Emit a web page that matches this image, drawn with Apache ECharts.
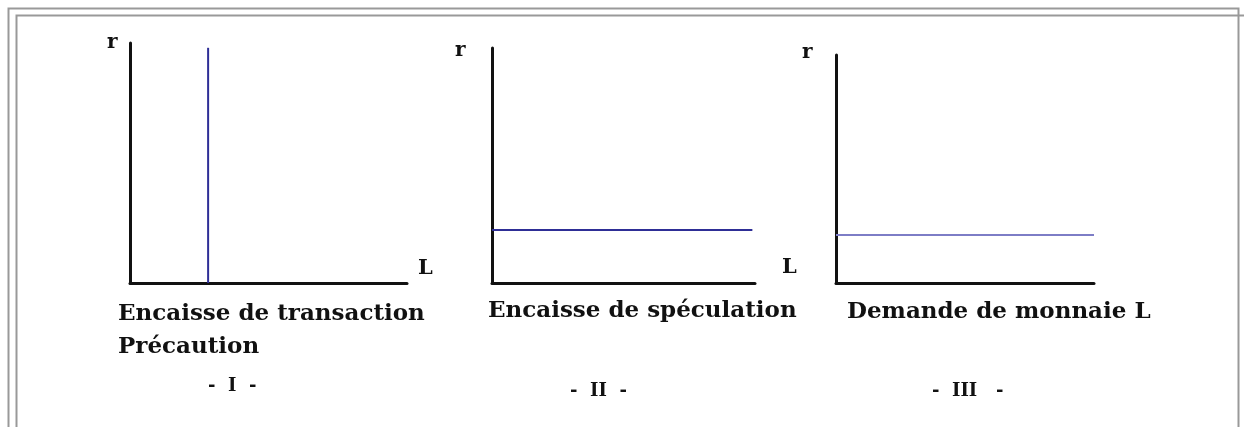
<!DOCTYPE html>
<html>
<head>
<meta charset="utf-8">
<script src="https://cdn.jsdelivr.net/npm/echarts@6/dist/echarts.min.js"></script>
<style>
  html, body { margin: 0; padding: 0; background: #fff; }
  #chart { width: 1244px; height: 427px; }
</style>
</head>
<body>
<div id="chart"></div>
<script>
// three little panels: r (interest rate) against L (money demand)
const panelCaptions = [
  'Encaisse de transaction\nPrécaution',
  'Encaisse de spéculation',
  'Demande de monnaie L'
]
const panelNumbers = ['-  I  -', '-  II  -', '-  III   -']
const yAxisName = 'r'
const xAxisName = 'L'

// curve points, in axis units (0..10 on both axes)
const transactionCurve = [[2.82, 0], [2.82, 9.8]]
const speculationCurve = [[0, 2.26], [9.9, 2.26]]
const demandCurve = [[0, 2.1], [10, 2.1]]

const curveColors = ['#2e2e96', '#2e2e96', '#7d7dc6']

const grids = [
  { left: 130, top: 43, width: 277, height: 240 },
  { left: 492, top: 48, width: 263, height: 235 },
  { left: 836, top: 55, width: 258, height: 228 }
]

const chart = echarts.init(document.getElementById('chart'))

const axisLine = { show: true, onZero: false, lineStyle: { color: '#111', width: 3 } }

const txt = (left, top, text, size, extra) => ({
  type: 'text', left: left, top: top,
  style: Object.assign({
    text: text, fontFamily: 'DejaVu Serif', fontWeight: 'bold',
    fontSize: size, fill: '#111'
  }, extra || {})
})

const option = {
  animation: false,
  backgroundColor: '#fff',
  grid: grids,
  xAxis: grids.map((g, i) => ({
    type: 'value', gridIndex: i, min: 0, max: 10,
    axisLine: axisLine, axisTick: { show: false },
    axisLabel: { show: false }, splitLine: { show: false }
  })),
  yAxis: grids.map((g, i) => ({
    type: 'value', gridIndex: i, min: 0, max: 10,
    axisLine: axisLine, axisTick: { show: false },
    axisLabel: { show: false }, splitLine: { show: false }
  })),
  series: [transactionCurve, speculationCurve, demandCurve].map((d, i) => ({
    type: 'line',
    xAxisIndex: i,
    yAxisIndex: i,
    data: d,
    symbol: 'none',
    lineStyle: { color: curveColors[i], width: 2 }
  })),
  graphic: [
    // double frame round the figure
    { type: 'polyline', shape: { points: [[8.5, 427], [8.5, 8.5], [1238.5, 8.5], [1238.5, 427]] },
      style: { stroke: '#999', lineWidth: 2, fill: null } },
    { type: 'polyline', shape: { points: [[16.5, 427], [16.5, 15.5], [1244, 15.5]] },
      style: { stroke: '#999', lineWidth: 2, fill: null } },
    // axis names
    txt(107, 33, yAxisName, 20),
    txt(418, 258, xAxisName, 21),
    txt(455, 41, yAxisName, 20),
    txt(782, 257, xAxisName, 21),
    txt(802, 43, yAxisName, 20),
    // captions
    txt(118, 298, panelCaptions[0], 23, { lineHeight: 33 }),
    txt(488, 300, panelCaptions[1], 23),
    txt(847, 301, panelCaptions[2], 23),
    txt(208, 377, panelNumbers[0], 18),
    txt(570, 382, panelNumbers[1], 18),
    txt(932, 382, panelNumbers[2], 18)
  ]
}

chart.setOption(option)
</script>
</body>
</html>
